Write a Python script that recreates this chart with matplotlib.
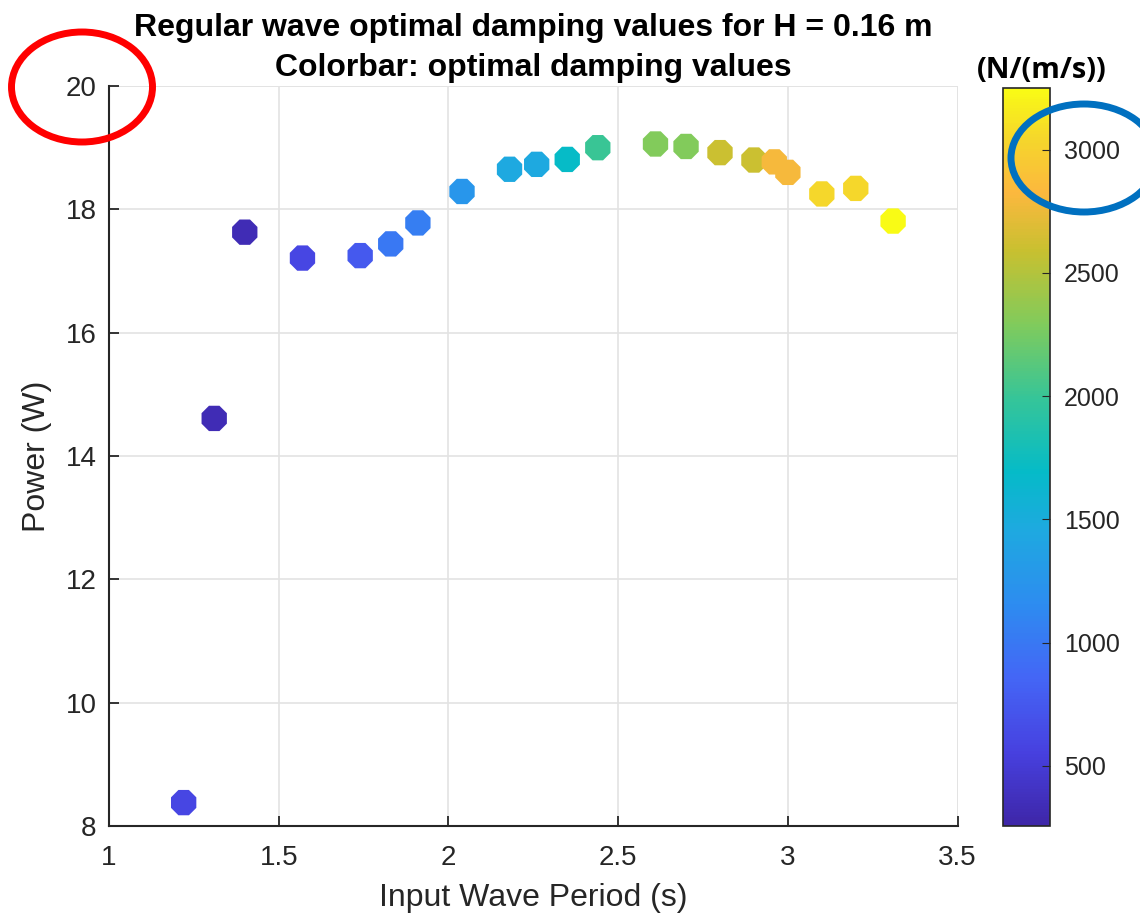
import matplotlib
matplotlib.use("Agg")
import matplotlib.pyplot as plt
from matplotlib.colors import LinearSegmentedColormap
from matplotlib.patches import Ellipse

# data
period = [1.22, 1.31, 1.40, 1.57, 1.74, 1.83, 1.91, 2.04, 2.18, 2.26, 2.35, 2.44,
          2.61, 2.70, 2.80, 2.90, 2.96, 3.00, 3.10, 3.20, 3.31]
power = [8.38, 14.61, 17.63, 17.21, 17.25, 17.44, 17.78, 18.29, 18.65, 18.73, 18.81, 19.00,
         19.06, 19.02, 18.92, 18.80, 18.77, 18.60, 18.25, 18.34, 17.81]
damping = [600, 330, 330, 600, 750, 1000, 1050, 1250, 1450, 1450, 1700, 2000,
           2300, 2300, 2600, 2600, 2800, 2800, 3050, 3050, 3250]

xticks = [1, 1.5, 2, 2.5, 3, 3.5]
yticks = [8, 10, 12, 14, 16, 18, 20]
cticks = [500, 1000, 1500, 2000, 2500, 3000]

# parula-like colormap
parula = LinearSegmentedColormap.from_list("parula", [
    (0.00, "#3e26a8"), (0.10, "#4741e0"), (0.20, "#4466f6"), (0.30, "#2d8cf0"),
    (0.40, "#1ea9e0"), (0.48, "#05bbc8"), (0.58, "#36c598"), (0.68, "#80cb5c"),
    (0.78, "#c8c030"), (0.86, "#fcb83e"), (0.93, "#f5d52c"), (1.00, "#f9fb15")])

fig = plt.figure(figsize=(11.4, 9.21), dpi=100)
ax = fig.add_axes([0.0956, 0.1031, 0.7444, 0.8035])
cax = fig.add_axes([0.880, 0.103, 0.041, 0.8015])

sc = ax.scatter(period, power, c=damping, cmap=parula, vmin=255, vmax=3250,
                marker="8", s=390, linewidths=0, zorder=3)

font = ["Liberation Sans", "DejaVu Sans"]
ax.set_xlim(1, 3.5)
ax.set_ylim(8, 20)
ax.set_xticks(xticks)
ax.set_xticklabels([f"{t:g}" for t in xticks], family=font, fontsize=20, color="#262626")
ax.set_yticks(yticks)
ax.set_yticklabels([str(t) for t in yticks], family=font, fontsize=20, color="#262626")
ax.tick_params(axis="x", direction="in", length=7, width=1.3, color="#262626", pad=14)
ax.tick_params(axis="y", direction="in", length=7, width=1.3, color="#262626", pad=9)
ax.grid(True, color="#e3e3e3", linewidth=1.2)
ax.set_axisbelow(True)
for s in ["top", "right"]:
    ax.spines[s].set_visible(False)
for s in ["left", "bottom"]:
    ax.spines[s].set_color("#262626")
    ax.spines[s].set_linewidth(1.5)
# light box edges like matlab grid
ax.axhline(20, color="#e3e3e3", linewidth=1.2, zorder=0)
ax.axvline(3.5, color="#e3e3e3", linewidth=1.2, zorder=0)

ax.set_xlabel("Input Wave Period (s)", family=font, fontsize=23, color="#262626", labelpad=8)
ax.set_ylabel("Power (W)", family=font, fontsize=23, color="#262626", labelpad=10)
ax.set_title("Regular wave optimal damping values for H = 0.16 m\nColorbar: optimal damping values",
             family=font, fontsize=23, fontweight="bold", linespacing=1.45, pad=7)

cb = fig.colorbar(sc, cax=cax)
cb.set_ticks(cticks)
cb.ax.tick_params(labelsize=18, direction="in", length=6, color="#262626", labelcolor="#262626", pad=10)
for lab in cb.ax.get_yticklabels():
    lab.set_family("Liberation Sans")
cb.outline.set_edgecolor("#262626")
cb.outline.set_linewidth(1.2)
fig.text(0.914, 0.923, "(N/(m/s))", ha="center", va="center", fontsize=21,
         fontweight="bold", family=["Open Sans", "DejaVu Sans"])

# highlight ellipses
fig.add_artist(Ellipse((82 / 1140, 1 - 87 / 921), 141 / 1140, 110 / 921,
                       transform=fig.transFigure, fill=False, edgecolor="#ff0000", linewidth=5))
fig.add_artist(Ellipse((1084 / 1140, 1 - 158 / 921), 146 / 1140, 108 / 921,
                       transform=fig.transFigure, fill=False, edgecolor="#0070c0", linewidth=5))

fig.savefig("out.png", dpi=100)
